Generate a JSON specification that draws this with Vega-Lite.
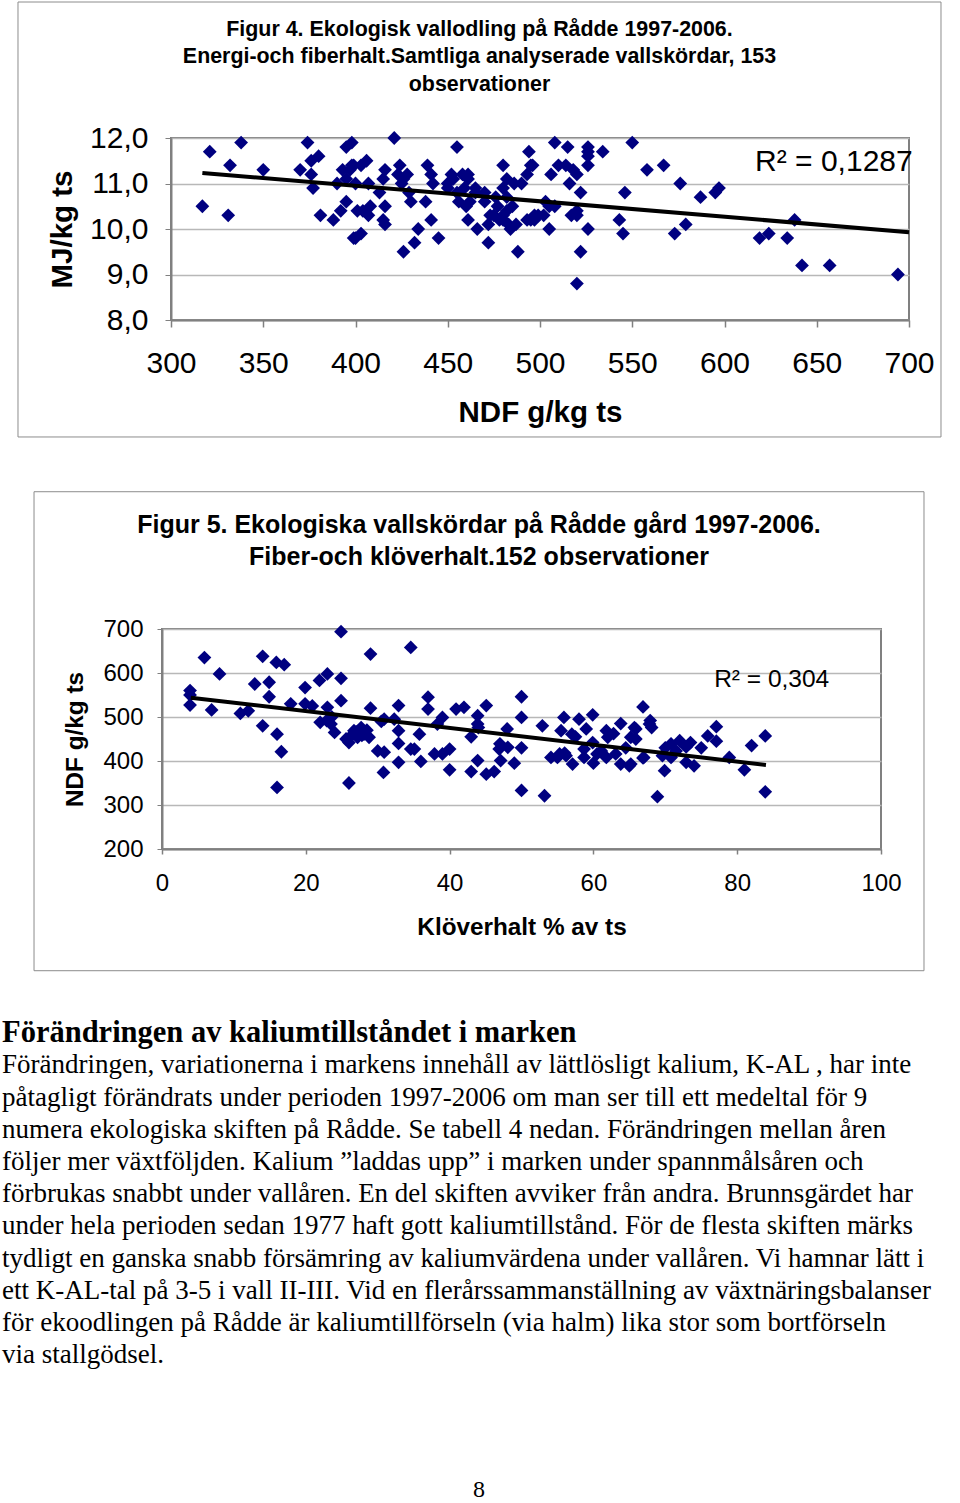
{
  "$schema": "https://vega.github.io/schema/vega-lite/v6.json",
  "background": "white",
  "padding": {"left": 2, "top": 0, "right": 0, "bottom": 0},
  "spacing": 51,
  "config": {
    "font": "Liberation Sans",
    "axis": {"labelFont": "Liberation Sans", "titleFont": "Liberation Sans", "labelColor": "black", "titleColor": "black", "domainColor": "#808080", "tickColor": "#808080", "gridColor": "#b8b8b8", "titleFontWeight": "bold", "labelFlush": false, "labelOverlap": false},
    "title": {"font": "Liberation Sans", "color": "black", "fontWeight": "bold"}
  },
  "datasets": {
    "fig4": [
      {"ndf":321,"mj":11.7},{"ndf":338,"mj":11.9},{"ndf":332,"mj":11.4},{"ndf":350,"mj":11.3},{"ndf":317,"mj":10.5},{"ndf":331,"mj":10.3},{"ndf":374,"mj":11.9},{"ndf":380,"mj":11.6},{"ndf":376,"mj":11.5},{"ndf":370,"mj":11.3},{"ndf":376,"mj":11.2},{"ndf":377,"mj":10.9},{"ndf":381,"mj":10.3},{"ndf":390,"mj":11.0},{"ndf":393,"mj":11.3},{"ndf":398,"mj":11.4},{"ndf":395,"mj":11.8},{"ndf":398,"mj":11.9},{"ndf":395,"mj":11.1},{"ndf":395,"mj":10.6},{"ndf":392,"mj":10.4},{"ndf":388,"mj":10.2},{"ndf":399,"mj":9.8},{"ndf":401,"mj":10.4},{"ndf":421,"mj":12.0},{"ndf":455,"mj":11.8},{"ndf":494,"mj":11.7},{"ndf":495,"mj":11.4},{"ndf":493,"mj":11.2},{"ndf":480,"mj":11.4},{"ndf":482,"mj":11.1},{"ndf":486,"mj":11.0},{"ndf":480,"mj":10.9},{"ndf":482,"mj":10.7},{"ndf":399,"mj":11.4},{"ndf":406,"mj":11.5},{"ndf":403,"mj":11.4},{"ndf":407,"mj":11.0},{"ndf":413,"mj":10.8},{"ndf":416,"mj":11.3},{"ndf":415,"mj":11.1},{"ndf":424,"mj":11.4},{"ndf":423,"mj":11.2},{"ndf":426,"mj":11.1},{"ndf":429,"mj":10.8},{"ndf":430,"mj":10.6},{"ndf":404,"mj":10.4},{"ndf":408,"mj":10.5},{"ndf":407,"mj":10.3},{"ndf":416,"mj":10.5},{"ndf":415,"mj":10.2},{"ndf":416,"mj":10.1},{"ndf":400,"mj":9.8},{"ndf":403,"mj":9.9},{"ndf":439,"mj":11.4},{"ndf":441,"mj":11.2},{"ndf":442,"mj":11.0},{"ndf":438,"mj":10.6},{"ndf":441,"mj":10.2},{"ndf":434,"mj":10.0},{"ndf":432,"mj":9.7},{"ndf":426,"mj":9.5},{"ndf":445,"mj":9.8},{"ndf":452,"mj":11.2},{"ndf":453,"mj":11.1},{"ndf":450,"mj":10.9},{"ndf":461,"mj":11.2},{"ndf":461,"mj":11.1},{"ndf":459,"mj":10.9},{"ndf":465,"mj":10.9},{"ndf":470,"mj":10.8},{"ndf":456,"mj":10.6},{"ndf":460,"mj":10.5},{"ndf":461,"mj":10.2},{"ndf":466,"mj":10.0},{"ndf":472,"mj":10.1},{"ndf":472,"mj":9.7},{"ndf":476,"mj":10.7},{"ndf":477,"mj":10.5},{"ndf":475,"mj":10.3},{"ndf":480,"mj":10.3},{"ndf":483,"mj":10.1},{"ndf":485,"mj":10.5},{"ndf":488,"mj":9.5},{"ndf":493,"mj":10.2},{"ndf":497,"mj":10.3},{"ndf":508,"mj":11.9},{"ndf":515,"mj":11.8},{"ndf":526,"mj":11.8},{"ndf":526,"mj":11.7},{"ndf":526,"mj":11.6},{"ndf":534,"mj":11.7},{"ndf":550,"mj":11.9},{"ndf":496,"mj":11.4},{"ndf":506,"mj":11.2},{"ndf":510,"mj":11.4},{"ndf":514,"mj":11.4},{"ndf":518,"mj":11.3},{"ndf":520,"mj":11.2},{"ndf":526,"mj":11.4},{"ndf":558,"mj":11.3},{"ndf":567,"mj":11.4},{"ndf":522,"mj":10.8},{"ndf":546,"mj":10.8},{"ndf":576,"mj":11.0},{"ndf":587,"mj":10.7},{"ndf":595,"mj":10.8},{"ndf":597,"mj":10.9},{"ndf":503,"mj":10.6},{"ndf":508,"mj":10.5},{"ndf":499,"mj":10.3},{"ndf":502,"mj":10.3},{"ndf":497,"mj":10.2},{"ndf":505,"mj":10.0},{"ndf":517,"mj":10.3},{"ndf":520,"mj":10.4},{"ndf":526,"mj":10.0},{"ndf":543,"mj":10.2},{"ndf":545,"mj":9.9},{"ndf":573,"mj":9.9},{"ndf":579,"mj":10.1},{"ndf":522,"mj":9.5},{"ndf":520,"mj":8.8},{"ndf":619,"mj":9.8},{"ndf":624,"mj":9.9},{"ndf":634,"mj":9.8},{"ndf":638,"mj":10.2},{"ndf":642,"mj":9.2},{"ndf":657,"mj":9.2},{"ndf":694,"mj":9.0},
      {"ndf":473,"mj":10.3},{"ndf":478,"mj":10.2},{"ndf":482,"mj":10.4},{"ndf":484,"mj":10.0},{"ndf":480,"mj":10.2},{"ndf":465,"mj":10.8},{"ndf":470,"mj":10.6},{"ndf":455,"mj":10.8},{"ndf":458,"mj":11.2},{"ndf":425,"mj":11.0},{"ndf":428,"mj":11.2},{"ndf":397,"mj":11.3},{"ndf":400,"mj":11.0},{"ndf":462,"mj":10.6},{"ndf":516,"mj":11.0},{"ndf":505,"mj":10.5},{"ndf":495,"mj":10.2},{"ndf":490,"mj":11.0},{"ndf":487,"mj":10.1},{"ndf":450,"mj":11.0},{"ndf":520,"mj":10.3}
    ],
    "fig5": [
      {"klover":5.9,"ndf":635},{"klover":8.0,"ndf":598},{"klover":3.9,"ndf":560},{"klover":3.9,"ndf":527},{"klover":6.9,"ndf":516},{"klover":10.9,"ndf":508},{"klover":12.0,"ndf":514},{"klover":14.0,"ndf":638},{"klover":15.9,"ndf":624},{"klover":17.0,"ndf":619},{"klover":12.9,"ndf":575},{"klover":14.9,"ndf":579},{"klover":14.9,"ndf":546},{"klover":17.9,"ndf":530},{"klover":14.0,"ndf":480},{"klover":16.0,"ndf":461},{"klover":16.6,"ndf":421},{"klover":16.0,"ndf":340},{"klover":19.9,"ndf":567},{"klover":19.9,"ndf":530},{"klover":21.9,"ndf":583},{"klover":23.0,"ndf":598},{"klover":24.9,"ndf":694},{"klover":24.9,"ndf":588},{"klover":24.9,"ndf":537},{"klover":23.0,"ndf":522},{"klover":22.9,"ndf":492},{"klover":23.5,"ndf":484},{"klover":24.0,"ndf":465},{"klover":26.0,"ndf":442},{"klover":26.0,"ndf":350},{"klover":26.7,"ndf":469},{"klover":27.7,"ndf":476},{"klover":28.1,"ndf":461},{"klover":28.8,"ndf":454},{"klover":27.2,"ndf":454},{"klover":29.0,"ndf":643},{"klover":29.0,"ndf":520},{"klover":30.0,"ndf":423},{"klover":30.9,"ndf":420},{"klover":30.8,"ndf":374},{"klover":32.9,"ndf":526},{"klover":32.9,"ndf":469},{"klover":32.9,"ndf":440},{"klover":32.9,"ndf":397},{"klover":30.9,"ndf":495},{"klover":32.3,"ndf":495},{"klover":34.6,"ndf":658},{"klover":34.6,"ndf":427},
      {"klover":37.0,"ndf":545},{"klover":37.0,"ndf":518},{"klover":35.8,"ndf":461},{"klover":35.1,"ndf":427},{"klover":36.0,"ndf":399},{"klover":37.9,"ndf":416},{"klover":39.0,"ndf":416},{"klover":40.0,"ndf":427},{"klover":40.0,"ndf":380},{"klover":39.0,"ndf":499},{"klover":38.3,"ndf":484},{"klover":40.9,"ndf":518},{"klover":42.0,"ndf":522},{"klover":43.0,"ndf":455},{"klover":43.0,"ndf":376},{"klover":43.9,"ndf":401},{"klover":43.9,"ndf":503},{"klover":45.1,"ndf":526},{"klover":43.9,"ndf":484},{"klover":45.1,"ndf":370},{"klover":46.2,"ndf":376},{"klover":46.9,"ndf":427},{"klover":47.1,"ndf":401},{"klover":48.1,"ndf":431},{"klover":48.0,"ndf":473},{"klover":49.0,"ndf":395},{"klover":50.0,"ndf":546},{"klover":50.0,"ndf":499},{"klover":50.0,"ndf":430},{"klover":50.0,"ndf":333},{"klover":52.9,"ndf":480},{"klover":53.2,"ndf":321},{"klover":54.1,"ndf":408},{"klover":55.0,"ndf":408},{"klover":55.9,"ndf":499},{"klover":55.5,"ndf":469},{"klover":55.3,"ndf":416},{"klover":56.2,"ndf":412},{"klover":57.0,"ndf":461},{"klover":57.1,"ndf":393},{"klover":58.0,"ndf":495},{"klover":59.0,"ndf":473},{"klover":58.7,"ndf":427},{"klover":58.7,"ndf":408},{"klover":59.9,"ndf":505},{"klover":59.9,"ndf":442},{"klover":60.0,"ndf":395},{"klover":61.8,"ndf":469},{"klover":62.0,"ndf":454},{"klover":61.8,"ndf":408},{"klover":61.1,"ndf":423},{"klover":63.1,"ndf":416},{"klover":63.8,"ndf":485},{"klover":63.8,"ndf":393},{"klover":65.0,"ndf":389},{"klover":65.7,"ndf":476},{"klover":65.2,"ndf":454},{"klover":66.9,"ndf":523},{"klover":66.9,"ndf":407},{"klover":67.8,"ndf":484},
      {"klover":67.9,"ndf":492},{"klover":68.1,"ndf":476},{"klover":65.9,"ndf":473},{"klover":65.9,"ndf":450},{"klover":65.2,"ndf":393},{"klover":67.0,"ndf":408},{"klover":68.9,"ndf":319},{"klover":69.9,"ndf":378},{"klover":69.6,"ndf":412},{"klover":70.8,"ndf":439},{"klover":72.0,"ndf":446},{"klover":70.8,"ndf":408},{"klover":72.9,"ndf":432},{"klover":72.9,"ndf":397},{"klover":74.0,"ndf":389},{"klover":75.0,"ndf":430},{"klover":75.9,"ndf":457},{"klover":77.1,"ndf":478},{"klover":77.1,"ndf":445},{"klover":78.9,"ndf":408},{"klover":81.0,"ndf":380},{"klover":82.0,"ndf":435},{"klover":83.9,"ndf":457},{"klover":83.9,"ndf":330},
      {"klover":27.0,"ndf":466},{"klover":27.8,"ndf":458},{"klover":26.4,"ndf":459},{"klover":28.5,"ndf":470},{"klover":25.6,"ndf":450},{"klover":23.6,"ndf":500},{"klover":22.0,"ndf":488},{"klover":44.0,"ndf":476},{"klover":47.0,"ndf":439},{"klover":56.0,"ndf":418},{"klover":57.5,"ndf":455},{"klover":60.5,"ndf":416},{"klover":62.8,"ndf":462},{"klover":70.0,"ndf":430},{"klover":71.5,"ndf":423},{"klover":73.5,"ndf":442},{"klover":20.9,"ndf":525},{"klover":3.9,"ndf":550},{"klover":64.5,"ndf":430},{"klover":30.5,"ndf":490}
    ],
    "page": [
      {"kind":"head","line":0,"text":"Förändringen av  kaliumtillståndet i marken"},
      {"kind":"body","line":1,"text":"Förändringen, variationerna i markens innehåll av lättlösligt kalium, K-AL ,  har inte"},
      {"kind":"body","line":2,"text":"påtagligt förändrats under perioden 1997-2006 om man ser till ett medeltal för 9"},
      {"kind":"body","line":3,"text":"numera ekologiska skiften på Rådde. Se tabell 4 nedan.  Förändringen mellan åren"},
      {"kind":"body","line":4,"text":"följer mer växtföljden. Kalium ”laddas upp” i marken under spannmålsåren och"},
      {"kind":"body","line":5,"text":"förbrukas snabbt under vallåren. En del skiften avviker från andra. Brunnsgärdet har"},
      {"kind":"body","line":6,"text":"under hela perioden sedan 1977 haft gott kaliumtillstånd. För de flesta skiften märks"},
      {"kind":"body","line":7,"text":"tydligt en ganska snabb försämring av kaliumvärdena under vallåren. Vi hamnar lätt i"},
      {"kind":"body","line":8,"text":"ett K-AL-tal på 3-5 i vall II-III. Vid en flerårssammanställning av växtnäringsbalanser"},
      {"kind":"body","line":9,"text":"för ekoodlingen på Rådde  är kaliumtillförseln (via halm) lika stor som bortförseln"},
      {"kind":"body","line":10,"text":"via stallgödsel."},
      {"kind":"page","line":14.2,"text":"8"}
    ]
  },
  "vconcat": [
    {
      "spacing": 0,
      "hconcat": [
        {"width": 14, "height": 1, "view": {"stroke": null}, "data": {"values": []}, "mark": "text", "encoding": {}},
        {
          "width": 738,
          "height": 182,
          "view": {"stroke": "#808080", "strokeWidth": 2},
          "title": {"text": ["Figur 4. Ekologisk vallodling på Rådde 1997-2006.", "Energi-och fiberhalt.Samtliga analyserade vallskördar, 153", "observationer"], "fontSize": 21.4, "fontWeight": "bold", "lineHeight": 27.5, "anchor": "middle", "frame": "bounds", "offset": -93.7},
          "layer": [
            {
              "data": {"values": [{"x1": 217.07, "x2": 717.34, "y1": 5.429, "y2": 14.989}]},
              "mark": {"type": "rect", "filled": false, "color": "#8c8c8c", "strokeWidth": 1, "clip": false},
              "encoding": {
                "x": {"field": "x1", "type": "quantitative", "title": "NDF g/kg ts", "scale": {"domain": [300, 700], "nice": false, "zero": false}},
                "x2": {"field": "x2"},
                "y": {"field": "y1", "type": "quantitative", "title": "MJ/kg ts", "scale": {"domain": [8, 12], "nice": false, "zero": false}},
                "y2": {"field": "y2"}
              }
            },
            {
              "data": {"name": "fig4"},
              "mark": {"type": "point", "shape": "diamond", "filled": true, "size": 190, "color": "#000080", "opacity": 1},
              "encoding": {
                "x": {"field": "ndf", "type": "quantitative", "title": "NDF g/kg ts", "scale": {"domain": [300, 700], "nice": false, "zero": false},
                  "axis": {"values": [300, 350, 400, 450, 500, 550, 600, 650, 700], "grid": false, "domainWidth": 2, "tickSize": 7, "tickWidth": 1.5, "labelFontSize": 30, "labelPadding": 21, "titleFontSize": 29.5, "titlePadding": 20}},
                "y": {"field": "mj", "type": "quantitative", "title": "MJ/kg ts", "scale": {"domain": [8, 12], "nice": false, "zero": false},
                  "axis": {"values": [8, 9, 10, 11, 12], "grid": true, "gridWidth": 1.5, "domainWidth": 2, "tickSize": 6, "labelFontSize": 30, "labelPadding": 17, "titleFontSize": 29.5, "titlePadding": 12, "labelExpr": "replace(format(datum.value, '.1f'), '.', ',')"}}
              }
            },
            {
              "data": {"values": [{"ndf": 317, "mj": 11.23}, {"ndf": 700, "mj": 9.93}]},
              "mark": {"type": "line", "color": "black", "strokeWidth": 4},
              "encoding": {
                "x": {"field": "ndf", "type": "quantitative", "title": "NDF g/kg ts", "scale": {"domain": [300, 700], "nice": false, "zero": false}},
                "y": {"field": "mj", "type": "quantitative", "title": "MJ/kg ts", "scale": {"domain": [8, 12], "nice": false, "zero": false}}
              }
            },
            {
              "data": {"values": [{"ndf": 702, "mj": 11.47, "label": "R² = 0,1287"}]},
              "mark": {"type": "text", "align": "right", "baseline": "middle", "fontSize": 30, "color": "black"},
              "encoding": {
                "x": {"field": "ndf", "type": "quantitative", "title": "NDF g/kg ts", "scale": {"domain": [300, 700], "nice": false, "zero": false}},
                "y": {"field": "mj", "type": "quantitative", "title": "MJ/kg ts", "scale": {"domain": [8, 12], "nice": false, "zero": false}},
                "text": {"field": "label"}
              }
            }
          ]
        }
      ]
    },
    {
      "spacing": 44,
      "vconcat": [
        {
          "spacing": 0,
          "hconcat": [
            {"width": 30, "height": 1, "view": {"stroke": null}, "data": {"values": []}, "mark": "text", "encoding": {}},
            {
              "width": 719,
              "height": 220,
              "view": {"stroke": "#808080", "strokeWidth": 2},
              "title": {"text": ["Figur 5. Ekologiska vallskördar på Rådde gård 1997-2006.", "Fiber-och klöverhalt.152 observationer"], "fontSize": 25, "fontWeight": "bold", "lineHeight": 32, "anchor": "middle", "frame": "bounds", "offset": -78.7},
              "layer": [
                {
                  "data": {"values": [{"x1": -17.8, "x2": 105.98, "y1": -76.6, "y2": 1012}]},
                  "mark": {"type": "rect", "filled": false, "color": "#8c8c8c", "strokeWidth": 1, "clip": false},
                  "encoding": {
                    "x": {"field": "x1", "type": "quantitative", "title": "Klöverhalt % av ts", "scale": {"domain": [0, 100], "nice": false, "zero": false}},
                    "x2": {"field": "x2"},
                    "y": {"field": "y1", "type": "quantitative", "title": "NDF g/kg ts", "scale": {"domain": [200, 700], "nice": false, "zero": false}},
                    "y2": {"field": "y2"}
                  }
                },
                {
                  "data": {"name": "fig5"},
                  "mark": {"type": "point", "shape": "diamond", "filled": true, "size": 190, "color": "#000080", "opacity": 1},
                  "encoding": {
                    "x": {"field": "klover", "type": "quantitative", "title": "Klöverhalt % av ts", "scale": {"domain": [0, 100], "nice": false, "zero": false},
                      "axis": {"values": [0, 20, 40, 60, 80, 100], "grid": false, "domainWidth": 2, "tickSize": 5, "tickWidth": 1.5, "labelFontSize": 24, "labelPadding": 17, "titleFontSize": 24.3, "titlePadding": 20}},
                    "y": {"field": "ndf", "type": "quantitative", "title": "NDF g/kg ts", "scale": {"domain": [200, 700], "nice": false, "zero": false},
                      "axis": {"values": [200, 300, 400, 500, 600, 700], "grid": true, "gridWidth": 1.5, "domainWidth": 2, "tickSize": 5, "labelFontSize": 24, "labelPadding": 14, "titleFontSize": 24.3, "titlePadding": 15}}
                  }
                },
                {
                  "data": {"values": [{"klover": 4.0, "ndf": 544}, {"klover": 84.0, "ndf": 391}]},
                  "mark": {"type": "line", "color": "black", "strokeWidth": 4},
                  "encoding": {
                    "x": {"field": "klover", "type": "quantitative", "title": "Klöverhalt % av ts", "scale": {"domain": [0, 100], "nice": false, "zero": false}},
                    "y": {"field": "ndf", "type": "quantitative", "title": "NDF g/kg ts", "scale": {"domain": [200, 700], "nice": false, "zero": false}}
                  }
                },
                {
                  "data": {"values": [{"klover": 92.8, "ndf": 585, "label": "R² = 0,304"}]},
                  "mark": {"type": "text", "align": "right", "baseline": "middle", "fontSize": 24.5, "color": "black"},
                  "encoding": {
                    "x": {"field": "klover", "type": "quantitative", "title": "Klöverhalt % av ts", "scale": {"domain": [0, 100], "nice": false, "zero": false}},
                    "y": {"field": "ndf", "type": "quantitative", "title": "NDF g/kg ts", "scale": {"domain": [200, 700], "nice": false, "zero": false}},
                    "text": {"field": "label"}
                  }
                }
              ]
            }
          ]
        },
        {
          "width": 954,
          "height": 483,
          "view": {"stroke": null},
          "data": {"name": "page"},
          "encoding": {
            "y": {"field": "line", "type": "quantitative", "scale": {"domain": [-0.5, 14.5], "reverse": true, "nice": false, "zero": false}, "axis": null},
            "text": {"field": "text"}
          },
          "layer": [
            {
              "transform": [{"filter": "datum.kind == 'head'"}],
              "mark": {"type": "text", "align": "left", "baseline": "middle", "font": "Liberation Serif", "fontSize": 30.5, "fontWeight": "bold", "color": "black"},
              "encoding": {"x": {"datum": 0, "type": "quantitative", "scale": {"domain": [0, 1]}, "axis": null}}
            },
            {
              "transform": [{"filter": "datum.kind == 'body'"}],
              "mark": {"type": "text", "align": "left", "baseline": "middle", "font": "Liberation Serif", "fontSize": 27, "color": "black"},
              "encoding": {"x": {"datum": 0, "type": "quantitative", "scale": {"domain": [0, 1]}, "axis": null}}
            },
            {
              "transform": [{"filter": "datum.kind == 'page'"}],
              "mark": {"type": "text", "align": "center", "baseline": "middle", "font": "Liberation Serif", "fontSize": 24, "color": "black"},
              "encoding": {"x": {"datum": 0.5, "type": "quantitative", "scale": {"domain": [0, 1]}, "axis": null}}
            }
          ]
        }
      ]
    }
  ]
}
